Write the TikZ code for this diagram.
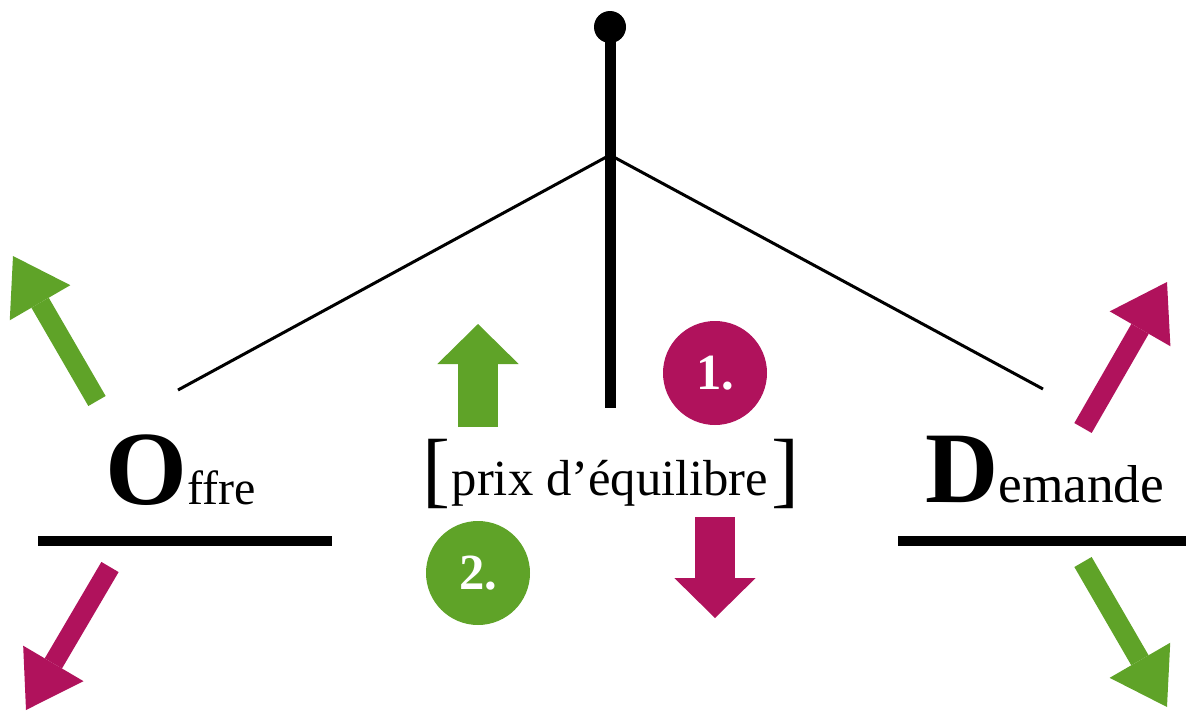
\documentclass[tikz,border=0pt]{standalone}
\usepackage{fontspec}
\setmainfont{Liberation Serif}
\usetikzlibrary{arrows.meta}
\definecolor{vert}{HTML}{5FA328}
\definecolor{magenta}{HTML}{B0125C}
\begin{document}
\begin{tikzpicture}[x=0.75pt,y=-0.75pt,
  thinline/.style={line width=2.25pt},
  barline/.style={line width=7.5pt},
  diagarrow/.style={line width=15pt,-{Triangle[length=40.5pt,width=52.5pt,line width=0pt]}},
  blockarrow/.style={line width=30pt,-{Triangle[length=30pt,width=61pt,line width=0pt]}},
  numcircle/.style={circle,minimum size=78pt,inner sep=0pt,text=white,font=\fontsize{38}{38}\selectfont\bfseries}]
\useasboundingbox (0,0) rectangle (1186,711);
% pivot
\coordinate (top) at (610,27);
\coordinate (stemend) at (610,408);
\coordinate (junction) at (610,155);
\coordinate (leftend) at (178,390);
\coordinate (rightend) at (1043,389);
\fill (top) circle (12pt);
\draw[line width=8.25pt] (top) -- (stemend);
\draw[thinline] (leftend) -- (junction) -- (rightend);
% bars
\coordinate (lb1) at (38,541); \coordinate (lb2) at (332,541);
\coordinate (rb1) at (898,541); \coordinate (rb2) at (1186,541);
\draw[barline] (lb1) -- (lb2);
\draw[barline] (rb1) -- (rb2);
% labels
\node[anchor=base west,inner sep=0pt] (offre) at (105,504)
  {\fontsize{79}{79}\selectfont\bfseries O\fontsize{36}{36}\selectfont\mdseries ffre};
\node[anchor=base west,inner sep=0pt] (demande) at (925,502)
  {\fontsize{76}{76}\selectfont\bfseries D\fontsize{40}{40}\selectfont\mdseries emande};
\node[anchor=base,inner sep=0pt] (prix) at (610,495)
  {\fontsize{38}{38}\selectfont prix d’équilibre};
\node[inner sep=0pt] (lbr) at (436,474) {\fontsize{63}{63}\selectfont [};
\node[inner sep=0pt] (rbr) at (785,474) {\fontsize{63}{63}\selectfont ]};
% circles
\node[numcircle,fill=magenta] (c1) at (715,373) {1.};
\node[numcircle,fill=vert] (c2) at (478,573) {2.};
% block arrows
\coordinate (upT) at (478,427); \coordinate (upH) at (478,324);
\coordinate (dnT) at (715,517); \coordinate (dnH) at (715,618);
\draw[blockarrow,vert] (upT) -- (upH);
\draw[blockarrow,magenta] (dnT) -- (dnH);
% diagonal arrows
\coordinate (a1T) at (97,401); \coordinate (a1H) at (13,256);
\coordinate (a2T) at (110,567); \coordinate (a2H) at (26,710);
\coordinate (a3T) at (1083,428); \coordinate (a3H) at (1167,282);
\coordinate (a4T) at (1083,562); \coordinate (a4H) at (1167,707);
\draw[diagarrow,vert] (a1T) -- (a1H);
\draw[diagarrow,magenta] (a2T) -- (a2H);
\draw[diagarrow,magenta] (a3T) -- (a3H);
\draw[diagarrow,vert] (a4T) -- (a4H);
\end{tikzpicture}
\end{document}
